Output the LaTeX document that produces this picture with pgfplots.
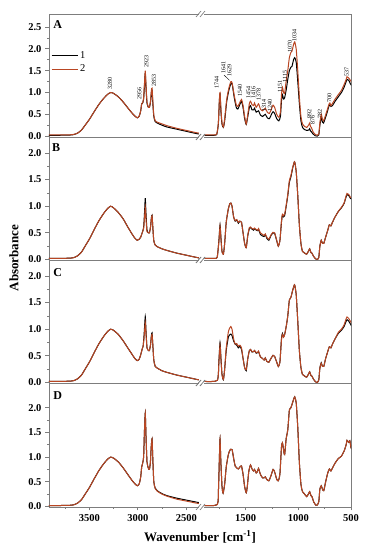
\documentclass[border=0pt]{standalone}
\usepackage{fontspec}
\setmainfont{Liberation Serif}
\usepackage{pgfplots}
\usepackage{pgfplotstable}
\pgfplotsset{compat=1.18}
\definecolor{sred}{RGB}{185,70,35}
\definecolor{fgray}{RGB}{125,125,125}

% w = wavenumber, s1 = sample 1 (black), s2 = sample 2 (red)
\pgfplotstableread{
w s1 s2
3920 0.02 0.028
3800 0.02 0.028
3700 0.025 0.03
3660 0.035 0.04
3620 0.07 0.07
3580 0.14 0.14
3540 0.26 0.26
3500 0.38 0.38
3450 0.56 0.56
3400 0.73 0.73
3350 0.87 0.87
3310 0.96 0.96
3280 1.0 1.0
3250 0.98 0.98
3200 0.9 0.9
3150 0.78 0.78
3100 0.64 0.64
3060 0.53 0.53
3030 0.46 0.46
3005 0.42 0.42
2985 0.46 0.46
2970 0.58 0.58
2960 0.74 0.74
2950 0.76 0.77
2940 0.85 0.87
2930 1.2 1.25
2923 1.45 1.5
2915 1.1 1.15
2905 0.75 0.78
2890 0.66 0.66
2880 0.66 0.66
2868 0.8 0.82
2860 1.0 1.05
2853 1.05 1.1
2845 0.75 0.8
2835 0.45 0.48
2820 0.33 0.35
2800 0.3 0.32
2750 0.25 0.28
2700 0.21 0.24
2600 0.16 0.18
2500 0.11 0.13
2400 0.06 0.08
2370 0.05 0.07
2000 nan nan
1890 0.02 0.03
1800 0.02 0.03
1775 0.04 0.05
1760 0.28 0.3
1750 0.82 0.85
1744 0.97 1.0
1735 0.55 0.6
1725 0.27 0.3
1712 0.2 0.21
1700 0.35 0.4
1680 0.8 0.85
1660 1.05 1.1
1641 1.2 1.25
1629 1.2 1.22
1610 0.9 0.95
1590 0.66 0.72
1575 0.62 0.68
1560 0.7 0.75
1540 0.8 0.84
1525 0.65 0.7
1510 0.4 0.45
1495 0.27 0.28
1480 0.45 0.5
1465 0.66 0.75
1454 0.7 0.8
1440 0.6 0.72
1425 0.6 0.7
1416 0.64 0.76
1400 0.55 0.66
1378 0.58 0.74
1360 0.48 0.62
1340 0.45 0.58
1314 0.5 0.64
1295 0.42 0.55
1275 0.4 0.52
1255 0.5 0.62
1240 0.56 0.71
1225 0.52 0.66
1205 0.4 0.5
1185 0.35 0.43
1170 0.45 0.55
1160 0.8 0.95
1151 0.95 1.12
1140 0.85 1.0
1130 0.88 0.98
1115 1.06 1.27
1100 1.3 1.5
1085 1.5 1.8
1070 1.58 1.92
1060 1.6 1.95
1045 1.75 2.1
1034 1.8 2.16
1020 1.7 2.0
1005 1.25 1.5
990 0.75 0.9
975 0.35 0.45
960 0.2 0.28
940 0.15 0.22
920 0.13 0.2
900 0.14 0.26
892 0.17 0.3
884 0.12 0.22
876 0.1 0.2
860 0.05 0.1
840 0.01 0.04
820 0.0 0.02
805 0.03 0.05
795 0.25 0.3
782 0.42 0.5
770 0.32 0.38
760 0.3 0.35
745 0.4 0.45
725 0.55 0.6
710 0.68 0.72
700 0.72 0.76
690 0.68 0.7
675 0.7 0.75
650 0.8 0.85
620 0.9 0.95
590 1.0 1.05
565 1.12 1.18
545 1.25 1.3
537 1.3 1.36
520 1.28 1.33
505 1.2 1.28
490 1.15 1.22
}\dataA

\pgfplotstableread{
w s1 s2
3920 0.02 0.02
3800 0.02 0.02
3700 0.025 0.025
3660 0.035 0.035
3620 0.07 0.07
3580 0.14 0.14
3540 0.26 0.26
3500 0.38 0.38
3450 0.56 0.56
3400 0.73 0.73
3350 0.87 0.87
3310 0.96 0.96
3280 1.0 1.0
3250 0.97 0.97
3200 0.88 0.88
3150 0.76 0.76
3100 0.6 0.6
3060 0.48 0.48
3030 0.4 0.4
3005 0.36 0.36
2985 0.38 0.38
2970 0.42 0.42
2955 0.5 0.5
2940 0.6 0.58
2930 0.9 0.8
2923 1.15 0.98
2915 0.85 0.75
2905 0.55 0.52
2890 0.5 0.5
2880 0.5 0.5
2868 0.62 0.62
2860 0.78 0.77
2853 0.83 0.82
2845 0.6 0.6
2835 0.35 0.35
2820 0.27 0.27
2800 0.24 0.24
2750 0.2 0.2
2700 0.17 0.17
2600 0.12 0.12
2500 0.08 0.08
2400 0.04 0.04
2370 0.03 0.03
2000 nan nan
1890 0.02 0.02
1790 0.02 0.02
1770 0.05 0.05
1755 0.35 0.33
1744 0.65 0.62
1735 0.4 0.38
1725 0.15 0.14
1712 0.1 0.1
1700 0.3 0.3
1685 0.7 0.7
1665 0.95 0.95
1650 1.05 1.05
1641 1.06 1.06
1630 1.0 1.0
1615 0.8 0.8
1600 0.72 0.73
1585 0.74 0.75
1570 0.68 0.7
1555 0.72 0.72
1540 0.7 0.7
1525 0.5 0.5
1510 0.3 0.3
1495 0.22 0.22
1480 0.45 0.46
1465 0.58 0.6
1454 0.6 0.61
1440 0.57 0.58
1425 0.55 0.57
1416 0.58 0.59
1400 0.55 0.56
1385 0.54 0.55
1378 0.57 0.58
1360 0.47 0.5
1340 0.44 0.47
1325 0.43 0.45
1314 0.47 0.48
1300 0.4 0.42
1280 0.36 0.38
1260 0.45 0.46
1240 0.5 0.51
1225 0.49 0.5
1205 0.35 0.36
1190 0.25 0.25
1175 0.35 0.35
1160 0.7 0.72
1151 0.83 0.85
1140 0.8 0.82
1130 0.82 0.85
1115 1.0 1.02
1100 1.2 1.22
1085 1.45 1.48
1070 1.55 1.58
1055 1.7 1.72
1040 1.82 1.82
1034 1.83 1.83
1020 1.65 1.65
1005 1.2 1.2
990 0.65 0.65
975 0.3 0.3
960 0.15 0.15
940 0.12 0.12
920 0.1 0.1
900 0.17 0.17
892 0.2 0.2
880 0.13 0.13
870 0.12 0.12
855 0.06 0.06
835 0.01 0.01
820 0.0 0.0
805 0.04 0.04
795 0.25 0.25
782 0.36 0.36
770 0.3 0.3
758 0.3 0.3
740 0.42 0.42
720 0.55 0.55
705 0.65 0.65
690 0.63 0.63
675 0.7 0.7
650 0.8 0.8
620 0.9 0.9
590 0.97 0.98
565 1.05 1.06
545 1.18 1.2
537 1.22 1.24
520 1.2 1.22
505 1.15 1.17
490 1.13 1.15
}\dataB

\pgfplotstableread{
w s1 s2
3920 0.02 0.02
3800 0.02 0.02
3700 0.025 0.025
3660 0.035 0.035
3620 0.07 0.07
3580 0.14 0.14
3540 0.26 0.26
3500 0.38 0.38
3450 0.56 0.56
3400 0.73 0.73
3350 0.87 0.87
3310 0.96 0.96
3280 1.0 1.0
3250 0.98 0.98
3200 0.9 0.9
3150 0.78 0.78
3100 0.64 0.64
3060 0.53 0.53
3030 0.45 0.45
3005 0.41 0.41
2985 0.44 0.44
2970 0.52 0.52
2956 0.62 0.62
2945 0.68 0.68
2935 0.9 0.85
2923 1.24 1.12
2915 0.95 0.9
2905 0.65 0.65
2890 0.6 0.6
2880 0.6 0.6
2868 0.72 0.72
2860 0.88 0.86
2853 0.93 0.9
2845 0.7 0.7
2835 0.42 0.42
2820 0.3 0.3
2800 0.27 0.27
2750 0.22 0.22
2700 0.19 0.19
2600 0.14 0.14
2500 0.1 0.1
2400 0.06 0.06
2370 0.05 0.05
2000 nan nan
1890 0.02 0.02
1770 0.04 0.04
1755 0.4 0.37
1744 0.75 0.7
1735 0.45 0.42
1725 0.15 0.14
1712 0.05 0.06
1700 0.25 0.25
1685 0.6 0.65
1665 0.85 0.95
1650 0.9 1.03
1641 0.91 1.05
1630 0.88 1.0
1615 0.78 0.82
1600 0.72 0.72
1585 0.7 0.73
1570 0.65 0.68
1555 0.68 0.7
1540 0.62 0.65
1525 0.45 0.45
1510 0.28 0.28
1495 0.22 0.24
1480 0.45 0.45
1465 0.6 0.6
1454 0.62 0.62
1440 0.57 0.58
1425 0.58 0.58
1416 0.6 0.6
1400 0.55 0.56
1385 0.56 0.57
1378 0.58 0.59
1360 0.48 0.48
1340 0.45 0.45
1325 0.42 0.42
1314 0.46 0.46
1300 0.4 0.4
1280 0.38 0.38
1260 0.45 0.45
1240 0.51 0.51
1225 0.49 0.49
1205 0.38 0.38
1190 0.3 0.3
1175 0.38 0.38
1160 0.82 0.8
1151 0.92 0.9
1140 0.86 0.85
1130 0.9 0.9
1115 1.05 1.05
1100 1.25 1.25
1085 1.55 1.55
1070 1.6 1.6
1055 1.72 1.72
1040 1.82 1.82
1034 1.83 1.83
1020 1.65 1.65
1005 1.15 1.15
990 0.6 0.6
975 0.28 0.28
960 0.15 0.15
940 0.12 0.12
920 0.1 0.1
900 0.17 0.17
892 0.2 0.2
880 0.13 0.13
870 0.12 0.12
855 0.06 0.06
835 0.01 0.01
820 0.0 0.0
805 0.05 0.05
795 0.27 0.27
782 0.37 0.36
770 0.3 0.3
758 0.3 0.3
740 0.45 0.45
720 0.58 0.58
705 0.67 0.67
690 0.65 0.65
675 0.72 0.72
650 0.82 0.82
620 0.92 0.94
590 0.98 1.0
565 1.05 1.08
545 1.15 1.2
537 1.18 1.23
520 1.15 1.2
505 1.1 1.15
490 1.05 1.1
}\dataC

\pgfplotstableread{
w s1 s2
3920 0.02 0.02
3800 0.02 0.02
3700 0.025 0.025
3660 0.035 0.035
3620 0.07 0.07
3580 0.14 0.14
3540 0.26 0.26
3500 0.38 0.38
3450 0.56 0.56
3400 0.73 0.73
3350 0.87 0.87
3310 0.96 0.96
3280 1.0 1.0
3250 0.98 0.98
3200 0.9 0.9
3150 0.78 0.78
3100 0.64 0.64
3060 0.53 0.53
3030 0.46 0.46
3005 0.42 0.42
2985 0.46 0.46
2970 0.6 0.6
2960 0.8 0.8
2952 0.86 0.86
2940 1.0 1.0
2932 1.5 1.5
2923 1.89 1.89
2915 1.4 1.4
2905 0.9 0.9
2890 0.77 0.77
2880 0.75 0.75
2870 0.9 0.9
2862 1.2 1.2
2853 1.37 1.37
2845 0.95 0.95
2835 0.5 0.5
2820 0.37 0.36
2800 0.32 0.31
2750 0.26 0.25
2700 0.22 0.21
2600 0.17 0.15
2500 0.13 0.11
2400 0.09 0.07
2370 0.08 0.06
2000 nan nan
1890 0.02 0.02
1770 0.04 0.04
1758 0.4 0.4
1750 1.0 1.0
1744 1.37 1.37
1736 0.9 0.9
1725 0.4 0.4
1715 0.27 0.27
1700 0.45 0.45
1685 0.8 0.8
1665 1.05 1.05
1650 1.14 1.14
1641 1.16 1.16
1629 1.15 1.15
1615 0.98 0.98
1600 0.82 0.82
1585 0.78 0.78
1570 0.76 0.76
1555 0.8 0.8
1540 0.82 0.82
1525 0.65 0.65
1510 0.4 0.4
1495 0.28 0.28
1485 0.4 0.4
1470 0.72 0.72
1454 0.84 0.84
1440 0.76 0.76
1425 0.72 0.72
1416 0.75 0.75
1400 0.68 0.68
1390 0.7 0.7
1378 0.77 0.77
1360 0.65 0.65
1340 0.58 0.58
1325 0.58 0.58
1314 0.6 0.6
1300 0.55 0.55
1280 0.52 0.52
1260 0.62 0.62
1240 0.75 0.75
1225 0.7 0.7
1205 0.55 0.55
1190 0.52 0.52
1175 0.65 0.65
1160 1.2 1.2
1151 1.29 1.29
1140 1.15 1.15
1130 1.05 1.05
1115 1.38 1.38
1100 1.55 1.55
1085 1.95 1.95
1070 2.0 2.0
1055 2.1 2.1
1040 2.2 2.2
1034 2.22 2.22
1020 2.1 2.1
1005 1.6 1.6
990 0.9 0.9
975 0.45 0.45
960 0.3 0.3
940 0.25 0.25
920 0.2 0.2
900 0.27 0.27
892 0.3 0.3
880 0.22 0.22
870 0.2 0.2
855 0.1 0.1
835 0.03 0.03
820 0.03 0.03
805 0.1 0.1
795 0.35 0.35
782 0.42 0.42
770 0.35 0.35
758 0.32 0.32
740 0.5 0.5
720 0.68 0.68
705 0.76 0.76
690 0.72 0.72
675 0.78 0.78
650 0.88 0.88
620 0.97 0.97
590 1.02 1.02
565 1.12 1.12
545 1.25 1.25
537 1.34 1.34
520 1.3 1.3
510 1.33 1.33
500 1.2 1.2
490 1.15 1.15
}\dataD

% broken wavenumber axis: left part 3900-2370, right part 1890-500
\newcommand{\wx}{\thisrow{w}>2000 ? 89.3+(3500-\thisrow{w})*0.097 : 245.7+(1500-\thisrow{w})*0.1052}

\pgfplotsset{
  panel/.style={
    width=302pt, height=123pt, scale only axis,
    anchor=south west,
    xmin=49, xmax=351,
    axis line style={fgray, line width=0.9pt},
    every tick/.style={fgray, line width=0.8pt},
    tick align=outside, ytick pos=left, xtick pos=bottom,
    major tick length=3.5pt, minor tick length=2pt,
    minor y tick num=1,
    xtick=\empty,
    /pgf/number format/assume math mode=true,
    /pgf/number format/fixed, /pgf/number format/fixed zerofill,
    /pgf/number format/precision=1,
    yticklabel style={font=\bfseries\fontsize{10.5}{11}\selectfont, xshift=-0.5pt},
    xticklabel style={font=\bfseries\fontsize{10.5}{11}\selectfont},
    unbounded coords=jump,
    clip mode=individual,
  },
  s1/.style={black, line width=1pt, smooth, tension=0.35},
  s2/.style={sred, line width=1pt, smooth, tension=0.35},
}

\newcommand{\brk}{%
  \fill[white] ([xshift=-2.5pt,yshift=-1pt]axis cs:201,\pgfkeysvalueof{/pgfplots/ymax}) rectangle ([xshift=2.5pt,yshift=1pt]axis cs:201,\pgfkeysvalueof{/pgfplots/ymax});
  \fill[white] ([xshift=-2.5pt,yshift=-1pt]axis cs:201,\pgfkeysvalueof{/pgfplots/ymin}) rectangle ([xshift=2.5pt,yshift=1pt]axis cs:201,\pgfkeysvalueof{/pgfplots/ymin});
  \draw[fgray, line width=0.7pt] ([xshift=-5pt,yshift=-3pt]axis cs:201,\pgfkeysvalueof{/pgfplots/ymax}) -- ++(5pt,6pt);
  \draw[fgray, line width=0.7pt] ([xshift=-1pt,yshift=-3pt]axis cs:201,\pgfkeysvalueof{/pgfplots/ymax}) -- ++(5pt,6pt);
  \draw[fgray, line width=0.7pt] ([xshift=-5pt,yshift=-3pt]axis cs:201,\pgfkeysvalueof{/pgfplots/ymin}) -- ++(5pt,6pt);
  \draw[fgray, line width=0.7pt] ([xshift=-1pt,yshift=-3pt]axis cs:201,\pgfkeysvalueof{/pgfplots/ymin}) -- ++(5pt,6pt);
}

\begin{document}
\begin{tikzpicture}
\useasboundingbox (0,0) rectangle (367pt,550pt);

% ---------- A ----------
\begin{axis}[panel, at={(49pt,413pt)}, ymin=-0.02, ymax=2.8,
  ytick={0,0.5,1,1.5,2,2.5},
  legend style={at={(axis cs:51,1.99)}, anchor=north west, draw=none, fill=none,
    font=\fontsize{10.5}{11}\selectfont, row sep=1pt, inner sep=0pt,
    legend cell align=left},
  legend image code/.code={\draw[#1, sharp plot] (0pt,0pt) -- (26pt,0pt);}]
\addplot[s1] table[x expr={\wx}, y=s1] {\dataA};
\addplot[s2] table[x expr={\wx}, y=s2] {\dataA};
\legend{1,2}
\node[anchor=north west, font=\bfseries\fontsize{12}{13}\selectfont, inner sep=0pt] at (rel axis cs:0.014,0.95) {A};
\begin{scope}[every node/.style={rotate=90, anchor=west, inner sep=0.3pt, font=\fontsize{6}{6}\selectfont}]
\node at (axis cs:110,1.05) {3280};
\node at (axis cs:139.3,0.83) {2956};
\node at (axis cs:146.5,1.56) {2923};
\node at (axis cs:154,1.12) {2853};
\node at (axis cs:216.7,1.07) {1744};
\node at (axis cs:223.3,1.42) {1641};
\node at (axis cs:229.3,1.35) {1629};
\node at (axis cs:240,0.9) {1540};
\node at (axis cs:248.3,0.85) {1454};
\node at (axis cs:253.3,0.85) {1416};
\node at (axis cs:258.7,0.8) {1378};
\node at (axis cs:264,0.55) {1314};
\node at (axis cs:270,0.55) {1240};
\node at (axis cs:280,1.0) {1151};
\node at (axis cs:285,1.22) {1115};
\node at (axis cs:290,1.9) {1070};
\node at (axis cs:294.3,2.16) {1034};
\node at (axis cs:309.3,0.39) {892};
\node at (axis cs:312.7,0.25) {876};
\node at (axis cs:320,0.39) {782};
\node at (axis cs:329.3,0.75) {700};
\node at (axis cs:346.7,1.35) {537};
\end{scope}
\draw[black, line width=0.4pt] (axis cs:224,1.40) -- (axis cs:229.5,1.28);
\brk
\end{axis}

% ---------- B ----------
\begin{axis}[panel, at={(49pt,290pt)}, ymin=-0.01, ymax=2.3,
  ytick={0,0.5,1,1.5,2}]
\addplot[s1] table[x expr={\wx}, y=s1] {\dataB};
\addplot[s2] table[x expr={\wx}, y=s2] {\dataB};
\node[anchor=north west, font=\bfseries\fontsize{12}{13}\selectfont, inner sep=0pt] at (rel axis cs:0.01,0.95) {B};
\brk
\end{axis}

% ---------- C ----------
\begin{axis}[panel, at={(49pt,167pt)}, ymin=-0.01, ymax=2.3,
  ytick={0,0.5,1,1.5,2}]
\addplot[s1] table[x expr={\wx}, y=s1] {\dataC};
\addplot[s2] table[x expr={\wx}, y=s2] {\dataC};
\node[anchor=north west, font=\bfseries\fontsize{12}{13}\selectfont, inner sep=0pt] at (rel axis cs:0.014,0.93) {C};
\brk
\end{axis}

% ---------- D ----------
\begin{axis}[panel, at={(49pt,43pt)}, height=124pt, ymin=-0.01, ymax=2.5,
  ytick={0,0.5,1,1.5,2},
  xtick={89.3,137.8,186.3,245.7,298.3,350.9},
  xticklabels={3500,3000,2500,1500,1000,500},
  minor xtick={65.05,113.55,162.05,219.4,272.0,324.6}]
\addplot[s1] table[x expr={\wx}, y=s1] {\dataD};
\addplot[s2] table[x expr={\wx}, y=s2] {\dataD};
\node[anchor=north west, font=\bfseries\fontsize{12}{13}\selectfont, inner sep=0pt] at (rel axis cs:0.014,0.93) {D};
\brk
\end{axis}

\node[rotate=90, font=\bfseries\fontsize{13}{14}\selectfont] at (14pt,292pt) {Absorbance};
\node[font=\bfseries\fontsize{13}{14}\selectfont] at (200pt,13pt) {Wavenumber [cm\textsuperscript{-1}]};
\end{tikzpicture}
\end{document}
